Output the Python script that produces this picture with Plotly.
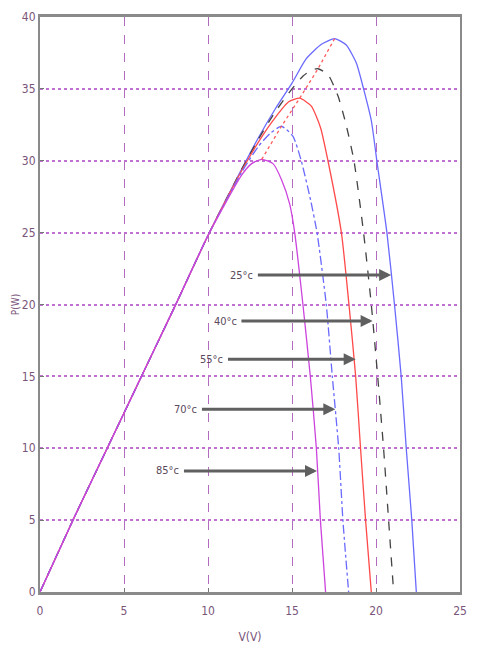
import plotly.graph_objects as go

# ---- data ----
v25 = [0, 2, 4, 6, 8, 10, 12, 13, 14, 15, 15.85, 16.75, 17.54, 18.23, 18.83, 19.26, 19.72, 20.05, 20.65, 21.1, 21.5, 21.8, 22.13, 22.4]
p25 = [0, 5.1, 10.0, 14.9, 19.8, 24.8, 29.4, 31.6, 33.6, 35.4, 37.1, 38.1, 38.5, 38.05, 36.8, 35.0, 32.8, 30.0, 25.0, 20.0, 15.0, 10.0, 5.0, 0]

v40 = [0, 2, 4, 6, 8, 10, 12, 13, 14, 15, 15.66, 16.15, 16.55, 17.14, 17.74, 18.2, 18.69, 19.26, 19.72, 20.1, 20.45, 20.75, 21.05]
p40 = [0, 5.1, 10.0, 14.9, 19.8, 24.8, 29.4, 31.5, 33.4, 35.0, 35.9, 36.3, 36.4, 36.0, 34.5, 32.6, 30.0, 25.0, 20.0, 15.0, 10.0, 5.0, 0]

v55 = [0, 2, 4, 6, 8, 10, 12, 13, 14, 14.8, 15.46, 16.15, 16.7, 17.14, 17.94, 18.39, 18.79, 19.08, 19.38, 19.72]
p55 = [0, 5.1, 10.0, 14.9, 19.8, 24.8, 29.3, 31.3, 33.0, 34.1, 34.35, 33.8, 32.3, 30.0, 25.0, 20.0, 15.0, 10.0, 5.0, 0]

v70 = [0, 2, 4, 6, 8, 10, 12, 13, 13.7, 14.37, 15.06, 15.55, 16.1, 16.49, 17.04, 17.4, 17.78, 18.03, 18.37]
p70 = [0, 5.1, 10.0, 14.9, 19.8, 24.8, 29.2, 31.0, 31.9, 32.4, 31.7, 30.0, 27.3, 25.0, 20.0, 15.0, 10.0, 5.0, 0]

v85 = [0, 2, 4, 6, 8, 10, 12, 12.6, 13.2, 13.87, 14.37, 14.86, 15.16, 15.65, 16.09, 16.45, 16.69, 17.0]
p85 = [0, 5.1, 10.0, 14.9, 19.8, 24.8, 29.0, 29.8, 30.1, 29.8, 28.7, 27.0, 25.0, 20.0, 15.0, 10.0, 5.0, 0]

mpp_v = [13.2, 14.37, 15.46, 16.55, 17.54]
mpp_p = [30.1, 32.4, 34.35, 36.4, 38.5]

arrow_labels = ["25°c", "40°c", "55°c", "70°c", "85°c"]
arrow_p = [22.05, 18.85, 16.19, 12.71, 8.42]
arrow_tail_v = [12.88, 11.9, 11.1, 9.55, 8.48]
arrow_tip_v = [20.9, 19.8, 18.79, 17.58, 16.49]

x_ticks = [0, 5, 10, 15, 20, 25]
y_ticks = [0, 5, 10, 15, 20, 25, 30, 35, 40]

# ---- figure ----
fig = go.Figure()
series = [
    (v25, p25, "#6a6aff", "solid"),
    (v40, p40, "#444444", "dash"),
    (v55, p55, "#ff4a4a", "solid"),
    (v70, p70, "#6a6aff", "dashdot"),
    (v85, p85, "#cc44dd", "solid"),
]
for v, p, c, d in series:
    fig.add_trace(go.Scatter(x=v, y=p, mode="lines",
                             line=dict(color=c, width=1.3, dash=d, shape="spline", smoothing=0.55),
                             showlegend=False, hoverinfo="skip"))
fig.add_trace(go.Scatter(x=mpp_v, y=mpp_p, mode="lines",
                         line=dict(color="#ff5a5a", width=1.3, dash="dot"),
                         showlegend=False, hoverinfo="skip"))

lab_font = dict(family="DejaVu Sans Condensed, Liberation Sans Narrow, sans-serif", size=11, color="#5a4a5a")
for lab, p, vt, vh in zip(arrow_labels, arrow_p, arrow_tail_v, arrow_tip_v):
    fig.add_annotation(x=vh, y=p, ax=vt, ay=p, xref="x", yref="y", axref="x", ayref="y",
                       text="", showarrow=True, arrowhead=2, arrowsize=0.8, arrowwidth=3,
                       arrowcolor="#606060")
    fig.add_annotation(x=vt, y=p, xref="x", yref="y", text=lab, showarrow=False,
                       xanchor="right", yanchor="middle", font=lab_font, xshift=-1)

tick_font = dict(family="DejaVu Sans Condensed, Liberation Sans Narrow, sans-serif", size=12, color="#7a557a")
fig.update_xaxes(range=[0, 25], tickvals=x_ticks, showgrid=True, gridcolor="#b36bc0",
                 griddash="dash", gridwidth=1, showline=True, linecolor="#8a8a8a", linewidth=3,
                 mirror=True, ticks="inside", ticklen=4, tickcolor="#777", zeroline=False,
                 ticklabelstandoff=6, automargin=False,
                 tickfont=tick_font, title=dict(text="V(V)", font=tick_font, standoff=16))
fig.update_yaxes(range=[0, 40], tickvals=y_ticks, showgrid=True, gridcolor="#c070d0",
                 griddash="dot", gridwidth=2, showline=True, linecolor="#8a8a8a", linewidth=2,
                 mirror=True, ticks="inside", ticklen=4, tickcolor="#777", zeroline=False,
                 tickfont=tick_font, automargin=False,
                 title=dict(text="P(W)", font=dict(family=tick_font["family"], size=10, color="#7a557a"), standoff=0))
fig.update_layout(width=477, height=663, margin=dict(l=40, r=17, t=17, b=71),
                  plot_bgcolor="white", paper_bgcolor="white")
fig.write_html("out.html")
